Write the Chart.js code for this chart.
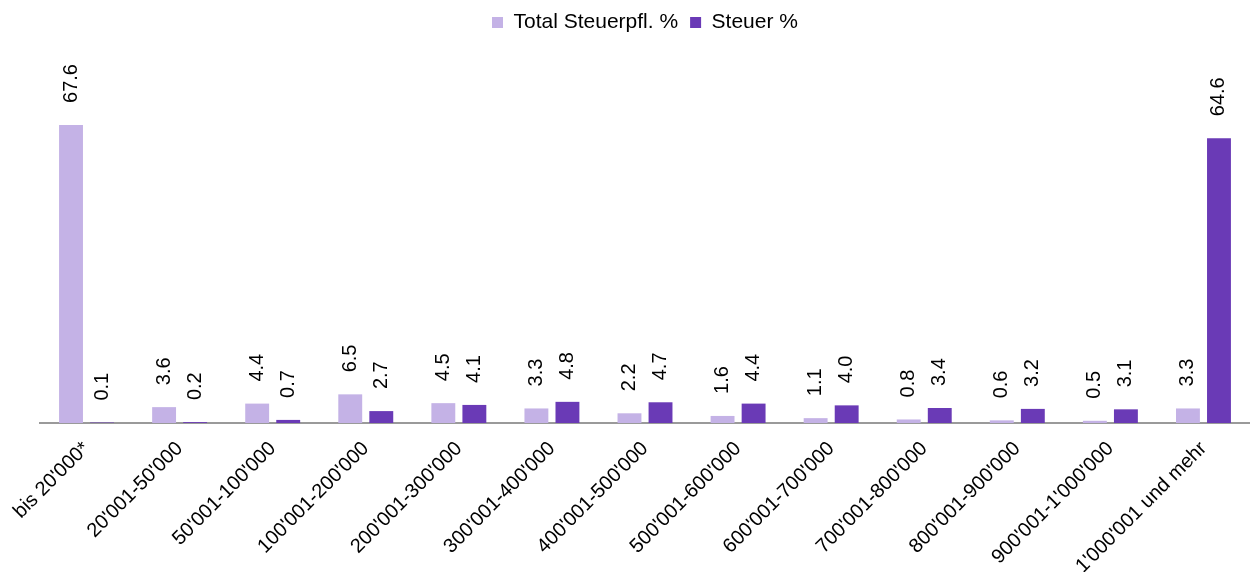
<!DOCTYPE html>
<html>
<head>
<meta charset="utf-8">
<script src="https://cdn.jsdelivr.net/npm/chart.js@4.4.1/dist/chart.umd.min.js"></script>
<style>
  html, body { margin: 0; padding: 0; background: #fff; }
  #wrap { width: 1250px; height: 572px; position: relative; }
</style>
</head>
<body>
<div id="wrap"><canvas id="chart"></canvas></div>
<script>
const categories = [
  "bis 20'000*", "20'001-50'000", "50'001-100'000", "100'001-200'000",
  "200'001-300'000", "300'001-400'000", "400'001-500'000", "500'001-600'000",
  "600'001-700'000", "700'001-800'000", "800'001-900'000", "900'001-1'000'000",
  "1'000'001 und mehr"
];
const totalSteuerpfl = [67.6, 3.6, 4.4, 6.5, 4.5, 3.3, 2.2, 1.6, 1.1, 0.8, 0.6, 0.5, 3.3];
const steuer = [0.1, 0.2, 0.7, 2.7, 4.1, 4.8, 4.7, 4.4, 4.0, 3.4, 3.2, 3.1, 64.6];

Chart.defaults.font.family = "'Liberation Sans', Arial, sans-serif";
Chart.defaults.color = '#000';

// values written vertically above each bar
const barLabels = {
  id: 'barLabels',
  afterDatasetsDraw(chart) {
    const ctx = chart.ctx;
    ctx.save();
    ctx.font = "20px 'Liberation Sans', Arial, sans-serif";
    ctx.fillStyle = '#000';
    ctx.textAlign = 'left';
    ctx.textBaseline = 'middle';
    chart.data.datasets.forEach((ds, i) => {
      chart.getDatasetMeta(i).data.forEach((bar, j) => {
        ctx.save();
        ctx.translate(bar.x, bar.y - 22);
        ctx.rotate(-Math.PI / 2);
        ctx.fillText(ds.data[j].toFixed(1), 0, 0);
        ctx.restore();
      });
    });
    ctx.restore();
  }
};

new Chart(document.getElementById('chart'), {
  type: 'bar',
  data: {
    labels: categories,
    datasets: [
      {
        label: 'Total Steuerpfl. %',
        data: totalSteuerpfl,
        backgroundColor: 'rgb(196, 178, 230)',
        categoryPercentage: 0.667,
        barPercentage: 0.77,
      },
      {
        label: 'Steuer %',
        data: steuer,
        backgroundColor: 'rgb(106, 58, 182)',
        categoryPercentage: 0.667,
        barPercentage: 0.77,
      },
    ],
  },
  options: {
    responsive: true,
    maintainAspectRatio: false,
    animation: false,
    layout: {padding: {left: 40, right: 0, top: 0, bottom: 0}},
    plugins: {
      legend: {
        position: 'top',
        labels: {boxWidth: 11, boxHeight: 11, padding: 12, font: {size: 21}},
      },
      tooltip: {enabled: false},
    },
    scales: {
      x: {
        grid: {display: false},
        border: {display: true, color: '#9a9a9a', width: 2},
        ticks: {minRotation: 45, maxRotation: 45, autoSkip: false, padding: 6, font: {size: 20}},
        afterFit(scale) {
          scale.height = 149;
          scale.paddingLeft = 0;
          scale.paddingRight = 0;
        },
      },
      y: {
        display: false,
        min: 0,
        max: 86.2,
      },
    },
  },
  plugins: [barLabels],
});
</script>
</body>
</html>
